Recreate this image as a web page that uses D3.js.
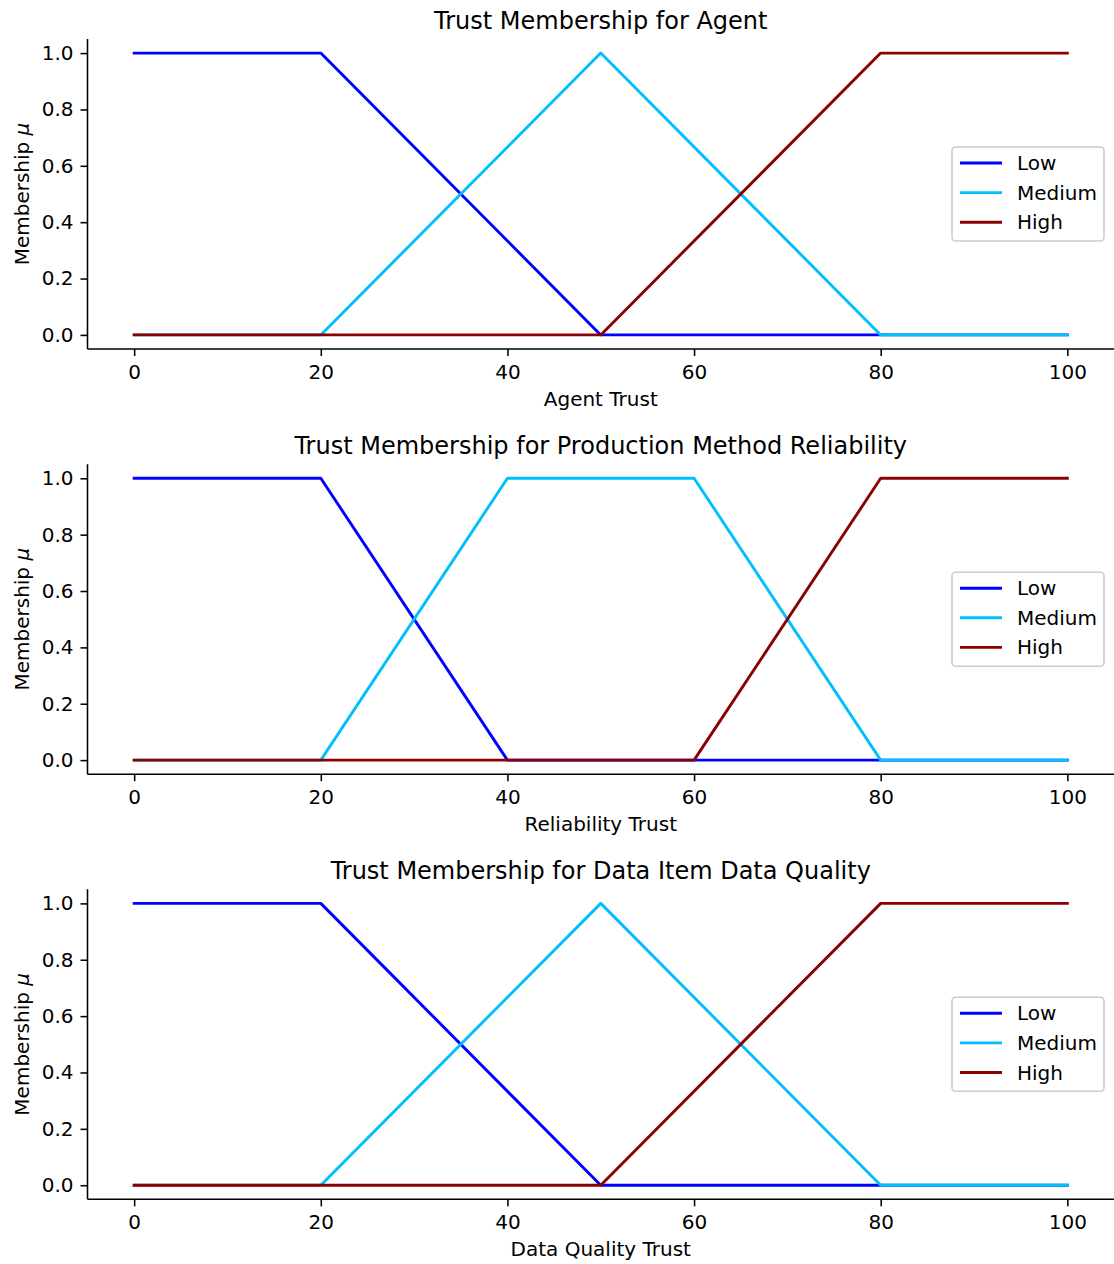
<!DOCTYPE html>
<html><head><meta charset="utf-8">
<script src="https://cdn.jsdelivr.net/npm/d3@7"></script>
<style>body{margin:0;background:#fff}svg{display:block}text{font-family:"DejaVu Sans",sans-serif;fill:#000}</style>
</head><body><div id="c"></div>
<script>
const titles = ["Trust Membership for Agent","Trust Membership for Production Method Reliability","Trust Membership for Data Item Data Quality"];
const xLabels = ["Agent Trust","Reliability Trust","Data Quality Trust"];
const seriesNames = ["Low","Medium","High"];
const seriesColors = ["#0000ff","#00bfff","#8b0000"];
const xTicks = [0,20,40,60,80,100];
const yTicks = [0,0.2,0.4,0.6,0.8,1.0];
// membership breakpoints [x, mu]
const agentLow = [[0,1],[20,1],[50,0],[100,0]];
const agentMedium = [[0,0],[20,0],[50,1],[80,0],[100,0]];
const agentHigh = [[0,0],[50,0],[80,1],[100,1]];
const relLow = [[0,1],[20,1],[40,0],[100,0]];
const relMedium = [[0,0],[20,0],[40,1],[60,1],[80,0],[100,0]];
const relHigh = [[0,0],[60,0],[80,1],[100,1]];
const dqLow = [[0,1],[20,1],[50,0],[100,0]];
const dqMedium = [[0,0],[20,0],[50,1],[80,0],[100,0]];
const dqHigh = [[0,0],[50,0],[80,1],[100,1]];
const panels = [[agentLow,agentMedium,agentHigh],[relLow,relMedium,relHigh],[dqLow,dqMedium,dqHigh]];

const W=1114,H=1264;
const svg=d3.select("#c").append("svg").attr("width",W).attr("height",H);
const L=87.5,R=1114,PH=310,tops=[39,464.2,889.3];
const fs=20;
const x=d3.scaleLinear().domain([-5,105]).range([L,R]);
panels.forEach((ser,i)=>{
  const T=tops[i];
  const y=d3.scaleLinear().domain([-0.05,1.05]).range([T+PH,T]);
  const g=svg.append("g");
  const line=d3.line().x(d=>x(d[0])).y(d=>y(d[1]));
  ser.forEach((s,j)=>{
    g.append("path").attr("d",line(s)).attr("fill","none").attr("stroke",seriesColors[j]).attr("stroke-width",2.9).attr("stroke-linejoin","round").attr("stroke-linecap","square");
  });
  const xa=g.append("g").attr("transform",`translate(0,${T+PH})`).call(d3.axisBottom(x).tickValues(xTicks).tickFormat(d3.format("d")).tickSizeInner(7).tickSizeOuter(0).tickPadding(9));
  const ya=g.append("g").attr("transform",`translate(${L},0)`).call(d3.axisLeft(y).tickValues(yTicks).tickFormat(d3.format(".1f")).tickSizeInner(7).tickSizeOuter(0).tickPadding(7));
  [xa,ya].forEach(a=>{a.selectAll("path.domain").attr("stroke","#000").attr("stroke-width",1.55);
    a.selectAll(".tick line").attr("stroke","#000").attr("stroke-width",1.55);
    a.selectAll("text").attr("font-size",fs).attr("font-family","DejaVu Sans").attr("fill","#000");});
  xa.select("path.domain").attr("d",`M${L},0H${R}`);
  ya.select("path.domain").attr("d",`M0,${T+PH}V${T}`);
  svg.append("text").attr("x",(L+R)/2).attr("y",T-10).attr("text-anchor","middle").attr("font-size",24).text(titles[i]);
  svg.append("text").attr("x",(L+R)/2).attr("y",T+PH+57).attr("text-anchor","middle").attr("font-size",fs).text(xLabels[i]);
  const yl=svg.append("text").attr("transform",`translate(29,${T+PH/2}) rotate(-90)`).attr("text-anchor","middle").attr("font-size",fs);
  yl.append("tspan").text("Membership ");
  yl.append("tspan").attr("font-style","italic").text("μ");
  // legend
  const lw=152,lh=94,lx=R-10-lw,ly=T+PH/2-lh/2;
  const lg=svg.append("g");
  lg.append("rect").attr("x",lx).attr("y",ly).attr("width",lw).attr("height",lh).attr("rx",3.5).attr("fill","#fff").attr("fill-opacity",0.8).attr("stroke","#cccccc").attr("stroke-width",1.55);
  seriesNames.forEach((n,j)=>{
    const cy=ly+16+j*29.6;
    lg.append("line").attr("x1",lx+8).attr("x2",lx+50).attr("y1",cy).attr("y2",cy).attr("stroke",seriesColors[j]).attr("stroke-width",2.9);
    lg.append("text").attr("x",lx+65).attr("y",cy+7).attr("font-size",fs).text(n);
  });
});
</script></body></html>
